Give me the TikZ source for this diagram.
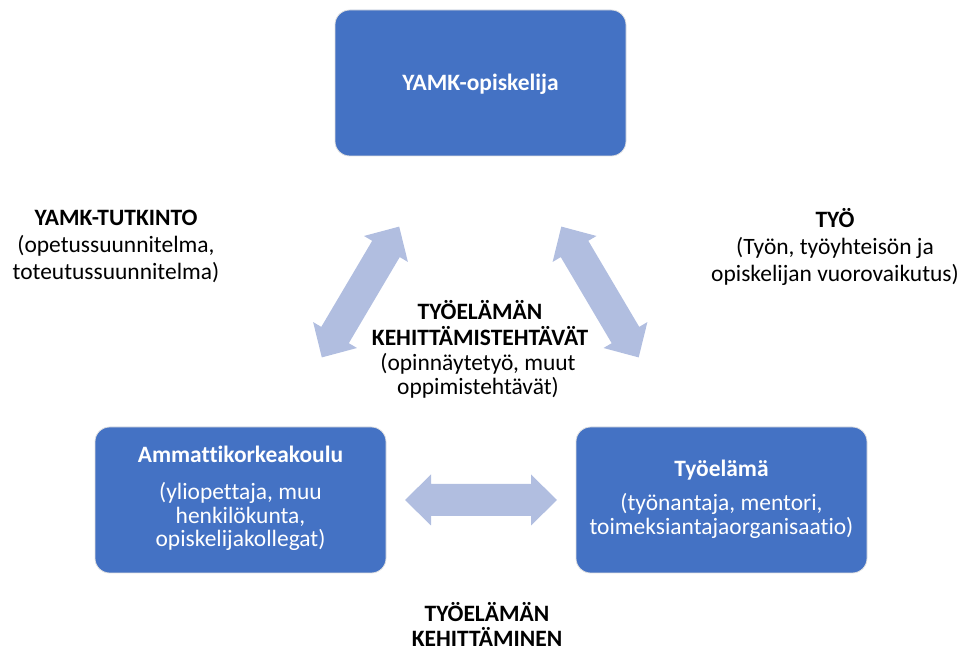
\documentclass[tikz,border=0pt]{standalone}
\usepackage{fontspec}
\setmainfont{Carlito}[Ligatures=NoCommon]
\definecolor{boxblue}{HTML}{4472C4}
\definecolor{arrowblue}{RGB}{177,190,224}
\begin{document}
\begin{tikzpicture}[x=0.75pt,y=-0.75pt,
  box/.style={fill=boxblue, draw=black!12, line width=0.6pt, rounded corners=11pt,
    minimum width=218.25pt, minimum height=109.5pt, inner sep=0pt},
  txt/.style={anchor=base, inner sep=0pt, font=\fontsize{17.6}{18}\selectfont},
  btxt/.style={txt, font=\fontsize{17.6}{18}\selectfont\bfseries},
  wtxt/.style={txt, text=white},
  wbtxt/.style={btxt, text=white},
  barrow/.style={fill=arrowblue},
  dblarrow/.pic={\fill[barrow] (-76,0) -- (-50,-25.5) -- (-50,-16) -- (50,-16) -- (50,-25.5)
     -- (76,0) -- (50,25.5) -- (50,16) -- (-50,16) -- (-50,25.5) -- cycle;}]
\useasboundingbox (0,0) rectangle (965,655);

% boxes
\node[box] (opisk) at (480.5,83) {};
\node[box] (amk) at (240.5,500) {};
\node[box] (tyoel) at (721.5,500) {};

% block arrows
\pic (arrL) [rotate=59.4] at (360.5,292) {dblarrow};
\pic (arrR) [rotate=-59.4] at (600,292) {dblarrow};
\pic (arrH) at (481,500) {dblarrow};

% box texts
\node[wbtxt] (t1) at (480.5,91) {YAMK-opiskelija};

\node[wbtxt] (a1) at (240.5,463) {Ammattikorkeakoulu};
\node[wtxt] (a2) at (240.5,500) {(yliopettaja, muu};
\node[wtxt] (a3) at (240.5,523.5) {henkilökunta,};
\node[wtxt] (a4) at (240.5,547) {opiskelijakollegat)};

\node[wbtxt] (w1) at (721.5,477) {Työelämä};
\node[wtxt] (w2) at (721.5,511) {(työnantaja, mentori,};
\node[wtxt] (w3) at (721.5,535) {toimeksiantajaorganisaatio)};

% middle
\node[btxt] (m1) at (480,320) {TYÖELÄMÄN};
\node[btxt] (m2) at (480,346) {KEHITTÄMISTEHTÄVÄT};
\node[txt] (m3) at (478,371) {(opinnäytetyö, muut};
\node[txt] (m4) at (478,395) {oppimistehtävät)};

% bottom
\node[btxt] (b1) at (487,622) {TYÖELÄMÄN};
\node[btxt] (b2) at (487,647) {KEHITTÄMINEN};

% left label
\node[btxt] (l1) at (116,226) {YAMK-TUTKINTO};
\node[txt] (l2) at (116,253) {(opetussuunnitelma,};
\node[txt] (l3) at (116,280) {toteutussuunnitelma)};

% right label
\node[btxt] (r1) at (835,228) {TYÖ};
\node[txt] (r2) at (835,255) {(Työn, työyhteisön ja};
\node[txt] (r3) at (835,282) {opiskelijan vuorovaikutus)};
\end{tikzpicture}
\end{document}
